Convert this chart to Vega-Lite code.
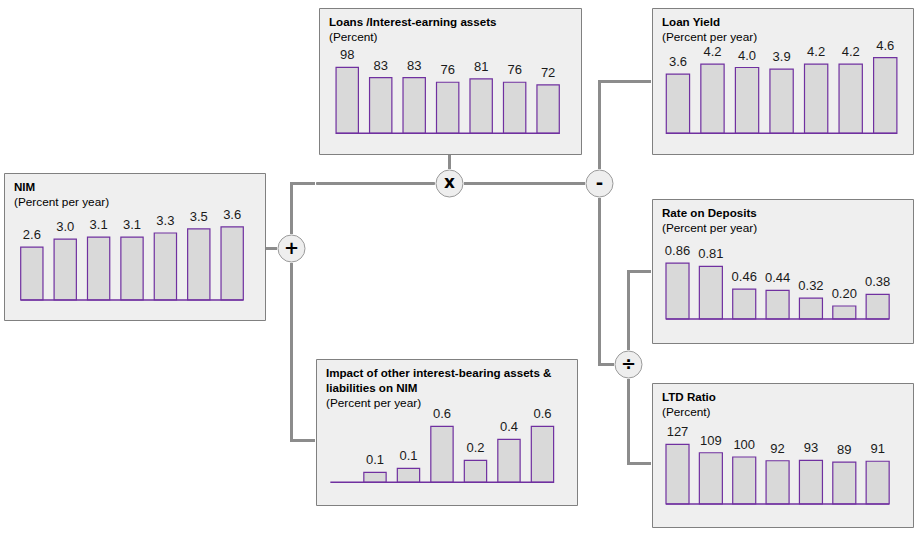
{
  "$schema": "https://vega.github.io/schema/vega-lite/v6.json",
  "padding": {"left": 3, "top": 7, "right": 0, "bottom": 0},
  "background": "white",
  "config": {
    "view": {"stroke": null, "fill": null},
    "concat": {"spacing": 0},
    "title": {"anchor": "start", "frame": "group", "dx": 10, "font": "Liberation Sans", "fontSize": 11.6, "fontWeight": "bold", "color": "#000000", "lineHeight": 15, "subtitleFont": "Liberation Sans", "subtitleFontSize": 11.8, "subtitleColor": "#000000", "subtitlePadding": 4},
    "text": {"font": "Liberation Sans"}
  },
  "spacing": 0,
  "hconcat": [
    {"spacing": 0, "vconcat": [
      {"width": 261, "height": 164, "data": {"values": []}, "mark": "point"},
      {"width": 261, "height": 147,
       "view": {"fill": "#efefef", "stroke": "#808080", "strokeWidth": 1},
       "title": {"text": "NIM", "subtitle": "(Percent per year)", "offset": -36},
       "data": {"values": [
         {"year": "2006", "value": 2.6}, {"year": "2007", "value": 3.0}, {"year": "2008", "value": 3.1},
         {"year": "2009", "value": 3.1}, {"year": "2010", "value": 3.3}, {"year": "2011", "value": 3.5},
         {"year": "2012", "value": 3.6}]},
       "encoding": {"x": {"field": "year", "type": "ordinal", "axis": null, "scale": {"domain": ["2006","2007","2008","2009","2010","2011","2012"], "paddingInner": 0.333, "paddingOuter": 0.575, "align": 0.435}}},
       "layer": [
         {"mark": {"type": "bar", "fill": "#d9d9d9", "stroke": "#7030a0", "strokeWidth": 1.2},
          "encoding": {"y": {"field": "value", "type": "quantitative", "axis": null, "scale": {"domain": [-0.985, 6.256], "nice": false, "zero": false}}, "y2": {"datum": 0}}},
         {"mark": {"type": "text", "baseline": "alphabetic", "dy": -8, "fontSize": 13, "color": "#1a1a1a"},
          "encoding": {"y": {"field": "value", "type": "quantitative"}, "text": {"field": "value", "type": "quantitative", "format": ".1f"}}},
         {"data": {"values": [{"first": "2006", "last": "2012"}]},
          "mark": {"type": "rule", "stroke": "#7030a0", "strokeWidth": 1.5},
          "encoding": {"x": {"field": "first", "type": "ordinal", "bandPosition": 0}, "x2": {"field": "last", "bandPosition": 1}, "y": {"datum": 0}}}
       ]}
    ]},
    {"spacing": 0, "vconcat": [
      {"width": 49, "height": 174, "data": {"values": []}, "mark": "point"},
      {"spacing": 0, "hconcat": [
        {"width": 24, "height": 3, "data": {"values": []}, "mark": "point"},
        {"width": 25, "height": 3, "data": {"values": []}, "mark": "point", "view": {"fill": "#8c8c8c", "stroke": null}}
      ]},
      {"spacing": 0, "hconcat": [
        {"width": 24, "height": 49, "data": {"values": []}, "mark": "point"},
        {"width": 3, "height": 49, "data": {"values": []}, "mark": "point", "view": {"fill": "#8c8c8c", "stroke": null}}
      ]},
      {"spacing": 0, "hconcat": [
        {"spacing": 0, "vconcat": [
          {"width": 11, "height": 13, "data": {"values": []}, "mark": "point"},
          {"width": 11, "height": 3, "data": {"values": []}, "mark": "point", "view": {"fill": "#8c8c8c", "stroke": null}}
        ]},
        {"width": 29, "height": 29, "data": {"values": [{"op": "+"}]},
         "layer": [
           {"mark": {"type": "point", "shape": "circle", "filled": true, "fill": "#eeeeee", "stroke": "#9a9a9a", "strokeWidth": 1, "strokeJoin": "round", "size": 729, "opacity": 1}},
           {"mark": {"type": "text", "fontSize": 18, "fontWeight": "bold", "color": "#000000", "font": "DejaVu Sans"}, "encoding": {"text": {"field": "op"}}}
         ]}
      ]},
      {"spacing": 0, "hconcat": [
        {"width": 24, "height": 176, "data": {"values": []}, "mark": "point"},
        {"width": 3, "height": 176, "data": {"values": []}, "mark": "point", "view": {"fill": "#8c8c8c", "stroke": null}}
      ]},
      {"spacing": 0, "hconcat": [
        {"width": 24, "height": 3, "data": {"values": []}, "mark": "point"},
        {"width": 25, "height": 3, "data": {"values": []}, "mark": "point", "view": {"fill": "#8c8c8c", "stroke": null}}
      ]}
    ]},
    {"spacing": 0, "vconcat": [
      {"spacing": 0, "hconcat": [
        {"width": 2, "height": 146, "data": {"values": []}, "mark": "point"},
        {"width": 262, "height": 146,
         "view": {"fill": "#efefef", "stroke": "#808080", "strokeWidth": 1},
         "title": {"text": "Loans /Interest-earning assets", "subtitle": "(Percent)", "offset": -36},
         "data": {"values": [
           {"year": "2006", "value": 98}, {"year": "2007", "value": 83}, {"year": "2008", "value": 83},
           {"year": "2009", "value": 76}, {"year": "2010", "value": 81}, {"year": "2011", "value": 76},
           {"year": "2012", "value": 72}]},
         "encoding": {"x": {"field": "year", "type": "ordinal", "axis": null, "scale": {"domain": ["2006","2007","2008","2009","2010","2011","2012"], "paddingInner": 0.333, "paddingOuter": 0.579, "align": 0.44}}},
         "layer": [
           {"mark": {"type": "bar", "fill": "#d9d9d9", "stroke": "#7030a0", "strokeWidth": 1.2},
            "encoding": {"y": {"field": "value", "type": "quantitative", "axis": null, "scale": {"domain": [-30.8, 186.5], "nice": false, "zero": false}}, "y2": {"datum": 0}}},
           {"mark": {"type": "text", "baseline": "alphabetic", "dy": -8, "fontSize": 13, "color": "#1a1a1a"},
            "encoding": {"y": {"field": "value", "type": "quantitative"}, "text": {"field": "value", "type": "quantitative", "format": "d"}}},
           {"data": {"values": [{"first": "2006", "last": "2012"}]},
            "mark": {"type": "rule", "stroke": "#7030a0", "strokeWidth": 1.5},
            "encoding": {"x": {"field": "first", "type": "ordinal", "bandPosition": 0}, "x2": {"field": "last", "bandPosition": 1}, "y": {"datum": 0}}}
         ]}
      ]},
      {"spacing": 0, "hconcat": [
        {"width": 132, "height": 14, "data": {"values": []}, "mark": "point"},
        {"width": 3, "height": 14, "data": {"values": []}, "mark": "point", "view": {"fill": "#8c8c8c", "stroke": null}}
      ]},
      {"spacing": 0, "hconcat": [
        {"spacing": 0, "vconcat": [
          {"width": 118, "height": 12, "data": {"values": []}, "mark": "point"},
          {"width": 118, "height": 2, "data": {"values": []}, "mark": "point", "view": {"fill": "#8c8c8c", "stroke": "#8c8c8c", "strokeWidth": 1}}
        ]},
        {"width": 29, "height": 29, "data": {"values": [{"op": "x"}]},
         "layer": [
           {"mark": {"type": "point", "shape": "circle", "filled": true, "fill": "#eeeeee", "stroke": "#9a9a9a", "strokeWidth": 1, "strokeJoin": "round", "size": 729, "opacity": 1}},
           {"mark": {"type": "text", "fontSize": 17, "fontWeight": "bold", "color": "#000000", "font": "DejaVu Sans", "dy": -1}, "encoding": {"text": {"field": "op"}}}
         ]},
        {"spacing": 0, "vconcat": [
          {"width": 121, "height": 13, "data": {"values": []}, "mark": "point"},
          {"width": 121, "height": 3, "data": {"values": []}, "mark": "point", "view": {"fill": "#8c8c8c", "stroke": null}}
        ]}
      ]},
      {"width": 269, "height": 160, "data": {"values": []}, "mark": "point"},
      {"width": 261, "height": 146,
       "view": {"fill": "#efefef", "stroke": "#808080", "strokeWidth": 1},
       "title": {"text": ["Impact of other interest-bearing assets &", "liabilities on NIM"], "subtitle": "(Percent per year)", "offset": -51},
       "data": {"values": [
         {"year": "2007", "value": 0.10}, {"year": "2008", "value": 0.14}, {"year": "2009", "value": 0.56},
         {"year": "2010", "value": 0.22}, {"year": "2011", "value": 0.43}, {"year": "2012", "value": 0.56}]},
       "encoding": {"x": {"field": "year", "type": "ordinal", "axis": null, "scale": {"domain": ["2006","2007","2008","2009","2010","2011","2012"], "paddingInner": 0.334, "paddingOuter": 0.563, "align": 0.38}}},
       "layer": [
         {"mark": {"type": "bar", "fill": "#d9d9d9", "stroke": "#7030a0", "strokeWidth": 1.2},
          "encoding": {"y": {"field": "value", "type": "quantitative", "axis": null, "scale": {"domain": [-0.227, 1.233], "nice": false, "zero": false}}, "y2": {"datum": 0}}},
         {"mark": {"type": "text", "baseline": "alphabetic", "dy": -8, "fontSize": 13, "color": "#1a1a1a"},
          "encoding": {"y": {"field": "value", "type": "quantitative"}, "text": {"field": "value", "type": "quantitative", "format": ".1f"}}},
         {"data": {"values": [{"first": "2006", "last": "2012"}]},
          "mark": {"type": "rule", "stroke": "#7030a0", "strokeWidth": 1.5},
          "encoding": {"x": {"field": "first", "type": "ordinal", "bandPosition": 0}, "x2": {"field": "last", "bandPosition": 1}, "y": {"datum": 0}}}
       ]}
    ]},
    {"spacing": 0, "vconcat": [
      {"width": 29, "height": 72, "data": {"values": []}, "mark": "point"},
      {"spacing": 0, "hconcat": [
        {"width": 13, "height": 3, "data": {"values": []}, "mark": "point"},
        {"width": 16, "height": 3, "data": {"values": []}, "mark": "point", "view": {"fill": "#8c8c8c", "stroke": null}}
      ]},
      {"spacing": 0, "hconcat": [
        {"width": 13, "height": 86, "data": {"values": []}, "mark": "point"},
        {"width": 3, "height": 86, "data": {"values": []}, "mark": "point", "view": {"fill": "#8c8c8c", "stroke": null}}
      ]},
      {"width": 29, "height": 29, "data": {"values": [{"op": "-"}]},
       "layer": [
         {"mark": {"type": "point", "shape": "circle", "filled": true, "fill": "#eeeeee", "stroke": "#9a9a9a", "strokeWidth": 1, "strokeJoin": "round", "size": 729, "opacity": 1}},
         {"mark": {"type": "text", "fontSize": 18, "fontWeight": "bold", "color": "#000000", "font": "DejaVu Sans"}, "encoding": {"text": {"field": "op"}}}
       ]},
      {"spacing": 0, "hconcat": [
        {"width": 13, "height": 165, "data": {"values": []}, "mark": "point"},
        {"width": 3, "height": 165, "data": {"values": []}, "mark": "point", "view": {"fill": "#8c8c8c", "stroke": null}}
      ]},
      {"spacing": 0, "hconcat": [
        {"width": 13, "height": 3, "data": {"values": []}, "mark": "point"},
        {"width": 16, "height": 3, "data": {"values": []}, "mark": "point", "view": {"fill": "#8c8c8c", "stroke": null}}
      ]}
    ]},
    {"spacing": 0, "vconcat": [
      {"width": 37, "height": 72, "data": {"values": []}, "mark": "point"},
      {"width": 37, "height": 3, "data": {"values": []}, "mark": "point", "view": {"fill": "#8c8c8c", "stroke": null}},
      {"width": 37, "height": 187, "data": {"values": []}, "mark": "point"},
      {"spacing": 0, "hconcat": [
        {"width": 13, "height": 3, "data": {"values": []}, "mark": "point"},
        {"width": 24, "height": 3, "data": {"values": []}, "mark": "point", "view": {"fill": "#8c8c8c", "stroke": null}}
      ]},
      {"spacing": 0, "hconcat": [
        {"width": 13, "height": 77, "data": {"values": []}, "mark": "point"},
        {"width": 3, "height": 77, "data": {"values": []}, "mark": "point", "view": {"fill": "#8c8c8c", "stroke": null}}
      ]},
      {"width": 29, "height": 29, "data": {"values": [{"op": "÷"}]},
       "layer": [
         {"mark": {"type": "point", "shape": "circle", "filled": true, "fill": "#eeeeee", "stroke": "#9a9a9a", "strokeWidth": 1, "strokeJoin": "round", "size": 729, "opacity": 1}},
         {"mark": {"type": "text", "fontSize": 18, "fontWeight": "bold", "color": "#000000", "font": "DejaVu Sans"}, "encoding": {"text": {"field": "op"}}}
       ]},
      {"spacing": 0, "hconcat": [
        {"width": 13, "height": 83, "data": {"values": []}, "mark": "point"},
        {"width": 3, "height": 83, "data": {"values": []}, "mark": "point", "view": {"fill": "#8c8c8c", "stroke": null}}
      ]},
      {"spacing": 0, "hconcat": [
        {"width": 13, "height": 3, "data": {"values": []}, "mark": "point"},
        {"width": 24, "height": 3, "data": {"values": []}, "mark": "point", "view": {"fill": "#8c8c8c", "stroke": null}}
      ]}
    ]},
    {"spacing": 0, "vconcat": [
      {"width": 261, "height": 146,
       "view": {"fill": "#efefef", "stroke": "#808080", "strokeWidth": 1},
       "title": {"text": "Loan Yield", "subtitle": "(Percent per year)", "offset": -36},
       "data": {"values": [
         {"year": "2006", "value": 3.6}, {"year": "2007", "value": 4.2}, {"year": "2008", "value": 4.0},
         {"year": "2009", "value": 3.9}, {"year": "2010", "value": 4.2}, {"year": "2011", "value": 4.2},
         {"year": "2012", "value": 4.6}]},
       "encoding": {"x": {"field": "year", "type": "ordinal", "axis": null, "scale": {"domain": ["2006","2007","2008","2009","2010","2011","2012"], "paddingInner": 0.326, "paddingOuter": 0.44, "align": 0.47}}},
       "layer": [
         {"mark": {"type": "bar", "fill": "#d9d9d9", "stroke": "#7030a0", "strokeWidth": 1.2},
          "encoding": {"y": {"field": "value", "type": "quantitative", "axis": null, "scale": {"domain": [-1.258, 7.617], "nice": false, "zero": false}}, "y2": {"datum": 0}}},
         {"mark": {"type": "text", "baseline": "alphabetic", "dy": -8, "fontSize": 13, "color": "#1a1a1a"},
          "encoding": {"y": {"field": "value", "type": "quantitative"}, "text": {"field": "value", "type": "quantitative", "format": ".1f"}}},
         {"data": {"values": [{"first": "2006", "last": "2012"}]},
          "mark": {"type": "rule", "stroke": "#7030a0", "strokeWidth": 1.5},
          "encoding": {"x": {"field": "first", "type": "ordinal", "bandPosition": 0}, "x2": {"field": "last", "bandPosition": 1}, "y": {"datum": 0}}}
       ]},
      {"width": 261, "height": 43, "data": {"values": []}, "mark": "point"},
      {"width": 261, "height": 144,
       "view": {"fill": "#efefef", "stroke": "#808080", "strokeWidth": 1},
       "title": {"text": "Rate on Deposits", "subtitle": "(Percent per year)", "offset": -36},
       "data": {"values": [
         {"year": "2006", "value": 0.86}, {"year": "2007", "value": 0.81}, {"year": "2008", "value": 0.46},
         {"year": "2009", "value": 0.44}, {"year": "2010", "value": 0.32}, {"year": "2011", "value": 0.20},
         {"year": "2012", "value": 0.38}]},
       "encoding": {"x": {"field": "year", "type": "ordinal", "axis": null, "scale": {"domain": ["2006","2007","2008","2009","2010","2011","2012"], "paddingInner": 0.31, "paddingOuter": 0.567, "align": 0.37}}},
       "layer": [
         {"mark": {"type": "bar", "fill": "#d9d9d9", "stroke": "#7030a0", "strokeWidth": 1.2},
          "encoding": {"y": {"field": "value", "type": "quantitative", "axis": null, "scale": {"domain": [-0.369, 1.846], "nice": false, "zero": false}}, "y2": {"datum": 0}}},
         {"mark": {"type": "text", "baseline": "alphabetic", "dy": -8, "fontSize": 13, "color": "#1a1a1a"},
          "encoding": {"y": {"field": "value", "type": "quantitative"}, "text": {"field": "value", "type": "quantitative", "format": ".2f"}}},
         {"data": {"values": [{"first": "2006", "last": "2012"}]},
          "mark": {"type": "rule", "stroke": "#7030a0", "strokeWidth": 1.5},
          "encoding": {"x": {"field": "first", "type": "ordinal", "bandPosition": 0}, "x2": {"field": "last", "bandPosition": 1}, "y": {"datum": 0}}}
       ]},
      {"width": 261, "height": 38, "data": {"values": []}, "mark": "point"},
      {"width": 261, "height": 144,
       "view": {"fill": "#efefef", "stroke": "#808080", "strokeWidth": 1},
       "title": {"text": "LTD Ratio", "subtitle": "(Percent)", "offset": -36},
       "data": {"values": [
         {"year": "2006", "value": 127}, {"year": "2007", "value": 109}, {"year": "2008", "value": 100},
         {"year": "2009", "value": 92}, {"year": "2010", "value": 93}, {"year": "2011", "value": 89},
         {"year": "2012", "value": 91}]},
       "encoding": {"x": {"field": "year", "type": "ordinal", "axis": null, "scale": {"domain": ["2006","2007","2008","2009","2010","2011","2012"], "paddingInner": 0.31, "paddingOuter": 0.567, "align": 0.37}}},
       "layer": [
         {"mark": {"type": "bar", "fill": "#d9d9d9", "stroke": "#7030a0", "strokeWidth": 1.2},
          "encoding": {"y": {"field": "value", "type": "quantitative", "axis": null, "scale": {"domain": [-48.9, 257.4], "nice": false, "zero": false}}, "y2": {"datum": 0}}},
         {"mark": {"type": "text", "baseline": "alphabetic", "dy": -8, "fontSize": 13, "color": "#1a1a1a"},
          "encoding": {"y": {"field": "value", "type": "quantitative"}, "text": {"field": "value", "type": "quantitative", "format": "d"}}},
         {"data": {"values": [{"first": "2006", "last": "2012"}]},
          "mark": {"type": "rule", "stroke": "#7030a0", "strokeWidth": 1.5},
          "encoding": {"x": {"field": "first", "type": "ordinal", "bandPosition": 0}, "x2": {"field": "last", "bandPosition": 1}, "y": {"datum": 0}}}
       ]}
    ]}
  ]
}
